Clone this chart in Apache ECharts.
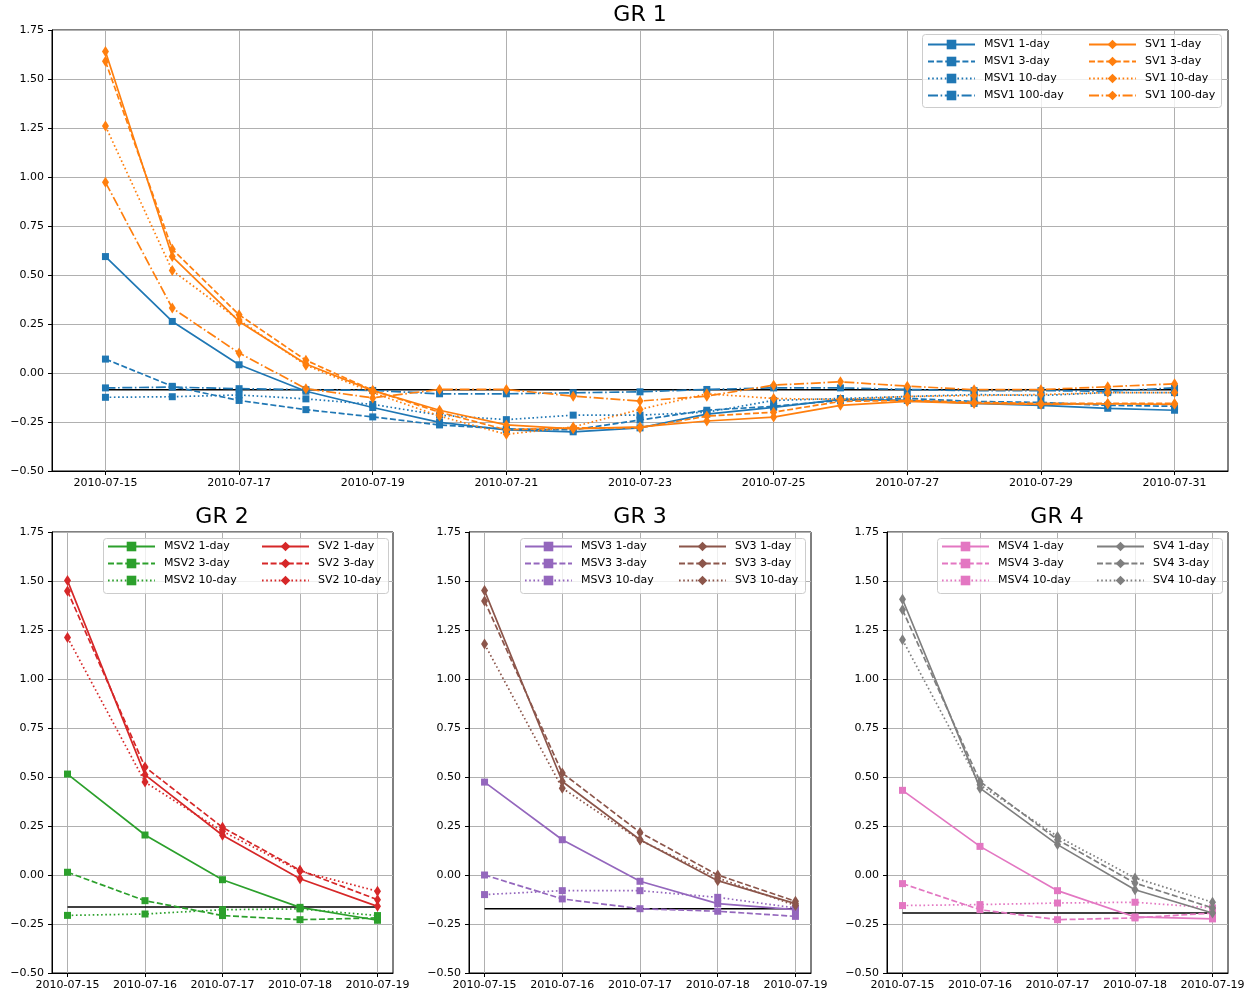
<!DOCTYPE html>
<html>
<head>
<meta charset="utf-8">
<script src="https://cdn.jsdelivr.net/npm/echarts@6/dist/echarts.min.js"></script>
<style>
html, body { margin: 0; padding: 0; background: #fff; }
#main { width: 1255px; height: 995px; }
</style>
</head>
<body>
<div id="main"></div>
<script>
var dates = ['2010-07-15', '2010-07-16', '2010-07-17', '2010-07-18', '2010-07-19', '2010-07-20',
    '2010-07-21', '2010-07-22', '2010-07-23', '2010-07-24', '2010-07-25', '2010-07-26',
    '2010-07-27', '2010-07-28', '2010-07-29', '2010-07-30', '2010-07-31']
var yTicks = [-0.5, -0.25, 0, 0.25, 0.5, 0.75, 1, 1.25, 1.5, 1.75]

// GR 1
var msv1_1 = [0.594, 0.263, 0.042, -0.093, -0.176, -0.252, -0.29, -0.30, -0.28, -0.21, -0.175, -0.135, -0.14, -0.155, -0.165, -0.18, -0.19]
var msv1_3 = [0.071, -0.068, -0.140, -0.187, -0.224, -0.265, -0.285, -0.29, -0.24, -0.19, -0.17, -0.14, -0.13, -0.145, -0.15, -0.165, -0.17]
var msv1_10 = [-0.124, -0.121, -0.112, -0.132, -0.16, -0.215, -0.238, -0.215, -0.215, -0.2, -0.14, -0.13, -0.12, -0.11, -0.115, -0.1, -0.1]
var msv1_100 = [-0.076, -0.072, -0.08, -0.085, -0.089, -0.106, -0.106, -0.101, -0.096, -0.084, -0.076, -0.076, -0.084, -0.09, -0.09, -0.093, -0.076]
var sv1_1 = [1.64, 0.594, 0.263, 0.046, -0.09, -0.19, -0.265, -0.285, -0.275, -0.245, -0.225, -0.165, -0.145, -0.155, -0.16, -0.157, -0.16]
var sv1_3 = [1.59, 0.632, 0.297, 0.065, -0.088, -0.20, -0.29, -0.28, -0.28, -0.22, -0.20, -0.145, -0.14, -0.15, -0.155, -0.155, -0.155]
var sv1_10 = [1.26, 0.523, 0.27, 0.04, -0.10, -0.22, -0.313, -0.275, -0.186, -0.106, -0.13, -0.135, -0.12, -0.115, -0.11, -0.1, -0.1]
var sv1_100 = [0.973, 0.331, 0.102, -0.08, -0.127, -0.084, -0.084, -0.118, -0.143, -0.118, -0.062, -0.045, -0.067, -0.085, -0.085, -0.07, -0.055]

// GR 2
var msv2_1 = [0.515, 0.204, -0.024, -0.165, -0.231]
var msv2_3 = [0.014, -0.131, -0.207, -0.228, -0.219]
var msv2_10 = [-0.206, -0.199, -0.177, -0.173, -0.207]
var sv2_1 = [1.502, 0.511, 0.203, -0.019, -0.16]
var sv2_3 = [1.449, 0.551, 0.243, 0.024, -0.126]
var sv2_10 = [1.212, 0.474, 0.223, 0.020, -0.083]

// GR 3
var msv3_1 = [0.474, 0.18, -0.032, -0.146, -0.177]
var msv3_3 = [0.0, -0.122, -0.172, -0.185, -0.211]
var msv3_10 = [-0.100, -0.080, -0.080, -0.114, -0.168]
var sv3_1 = [1.451, 0.477, 0.18, -0.029, -0.146]
var sv3_3 = [1.398, 0.52, 0.217, 0.0, -0.134]
var sv3_10 = [1.178, 0.443, 0.178, -0.015, -0.156]

// GR 4
var msv4_1 = [0.432, 0.146, -0.08, -0.214, -0.224]
var msv4_3 = [-0.044, -0.177, -0.228, -0.219, -0.194]
var msv4_10 = [-0.156, -0.151, -0.143, -0.139, -0.168]
var sv4_1 = [1.407, 0.443, 0.155, -0.075, -0.194]
var sv4_3 = [1.353, 0.477, 0.18, -0.041, -0.168]
var sv4_10 = [1.20, 0.46, 0.197, -0.015, -0.139]

// black reference lines
var means = [-0.086, -0.163, -0.172, -0.194]

var FONT = 'DejaVu Sans'
var dashes = {
    '1-day': 'solid',
    '3-day': [6, 2.6],
    '10-day': [1.6, 2.6],
    '100-day': [10, 2.6, 1.6, 2.6]
}

var grids = [
    { left: 52, top: 30, width: 1176, height: 441 },
    { left: 52, top: 532, width: 341, height: 441 },
    { left: 469, top: 532, width: 342, height: 441 },
    { left: 887, top: 532, width: 341, height: 441 }
]

function fmtY(v) {
    var s = Math.abs(v).toFixed(2)
    return v < -1e-9 ? '\u2212' + s : s
}

function makeX(idx, n, step) {
    var ticks = []
    for (var i = 0; i < n; i += step) ticks.push(i)
    var pad = (n - 1) * 0.05
    return {
        type: 'value', gridIndex: idx,
        min: -pad, max: n - 1 + pad,
        axisLine: { show: true, onZero: false, lineStyle: { color: '#000', width: 1 } },
        axisTick: { show: true, inside: false, length: 4, customValues: ticks, lineStyle: { color: '#000' } },
        axisLabel: {
            customValues: ticks, margin: 7, fontSize: 11, fontFamily: FONT, color: '#000',
            formatter: function (v) { return dates[Math.round(v)] }
        },
        splitLine: { show: true, lineStyle: { color: '#b0b0b0', width: 1 } }
    }
}

function makeY(idx) {
    return {
        type: 'value', gridIndex: idx,
        min: -0.5, max: 1.75, interval: 0.25,
        axisLine: { show: true, onZero: false, lineStyle: { color: '#000', width: 1 } },
        axisTick: { show: true, inside: false, length: 4, lineStyle: { color: '#000' } },
        axisLabel: { margin: 8, fontSize: 11, fontFamily: FONT, color: '#000', formatter: fmtY },
        splitLine: { show: true, lineStyle: { color: '#b0b0b0', width: 1 } }
    }
}

function line(name, values, idx, color, isSV, dashKey, z) {
    return {
        name: name, type: 'line', xAxisIndex: idx, yAxisIndex: idx,
        data: values.map(function (v, i) { return [i, v] }),
        symbol: isSV ? 'diamond' : 'rect',
        symbolSize: isSV ? [7, 11] : 7,
        showAllSymbol: true,
        color: color,
        itemStyle: { color: color },
        lineStyle: { color: color, width: 1.7, type: dashes[dashKey] },
        z: z,
        silent: true,
        emphasis: { disabled: true }
    }
}

function meanLine(idx, n) {
    return {
        type: 'line', xAxisIndex: idx, yAxisIndex: idx,
        data: [[0, means[idx]], [n - 1, means[idx]]],
        symbol: 'none',
        lineStyle: { color: '#000', width: 1.5 },
        z: 1, silent: true
    }
}

var groups = [
    { key: '1', color: ['#1f77b4', '#ff7f0e'], kinds: ['1-day', '3-day', '10-day', '100-day'],
      msv: [msv1_1, msv1_3, msv1_10, msv1_100], sv: [sv1_1, sv1_3, sv1_10, sv1_100], n: 17 },
    { key: '2', color: ['#2ca02c', '#d62728'], kinds: ['1-day', '3-day', '10-day'],
      msv: [msv2_1, msv2_3, msv2_10], sv: [sv2_1, sv2_3, sv2_10], n: 5 },
    { key: '3', color: ['#9467bd', '#8c564b'], kinds: ['1-day', '3-day', '10-day'],
      msv: [msv3_1, msv3_3, msv3_10], sv: [sv3_1, sv3_3, sv3_10], n: 5 },
    { key: '4', color: ['#e377c2', '#7f7f7f'], kinds: ['1-day', '3-day', '10-day'],
      msv: [msv4_1, msv4_3, msv4_10], sv: [sv4_1, sv4_3, sv4_10], n: 5 }
]

// legend layout: [col1 left, col2 left, top, box x, box y, box w, box h]
var legendPos = [
    [927, 1088, 39, 922, 34, 299, 73],
    [107, 261, 541, 103, 538, 285, 55],
    [524, 678, 541, 520, 538, 285, 55],
    [941, 1096, 541, 937, 538, 285, 55]
]
var titlePos = [[640, 4], [222, 506], [640, 506], [1057, 506]]

var xAxes = [], yAxes = [], series = [], legends = [], titles = [], graphics = []

groups.forEach(function (g, idx) {
    xAxes.push(makeX(idx, g.n, idx === 0 ? 2 : 1))
    yAxes.push(makeY(idx))
    series.push(meanLine(idx, g.n))
    var col1 = [], col2 = []
    g.kinds.forEach(function (k, j) {
        var nm = 'MSV' + g.key + ' ' + k
        series.push(line(nm, g.msv[j], idx, g.color[0], false, k, 2))
        col1.push(nm)
    })
    g.kinds.forEach(function (k, j) {
        var nm = 'SV' + g.key + ' ' + k
        series.push(line(nm, g.sv[j], idx, g.color[1], true, k, 3))
        col2.push(nm)
    })
    var p = legendPos[idx]
    ;[[col1, p[0]], [col2, p[1]]].forEach(function (c) {
        legends.push({
            data: c[0], orient: 'vertical', left: c[1], top: p[2], padding: 0,
            itemWidth: 47, itemHeight: 12, itemGap: 6, selectedMode: false,
            textStyle: { fontSize: 11, fontFamily: FONT, color: '#000', padding: [0, 0, 0, 4] },
            z: 10
        })
    })
    graphics.push({
        type: 'rect', left: p[3], top: p[4], z: 9,
        shape: { width: p[5], height: p[6], r: 3 },
        style: { fill: 'rgba(255,255,255,0.8)', stroke: '#cccccc', lineWidth: 1 }
    })
    titles.push({
        text: 'GR ' + g.key, left: titlePos[idx][0], top: titlePos[idx][1], textAlign: 'center', padding: 0,
        textStyle: { fontSize: 22, fontWeight: 'normal', fontFamily: FONT, color: '#000' }
    })
})

var chart = echarts.init(document.getElementById('main'))
chart.setOption({
    animation: false,
    backgroundColor: '#fff',
    title: titles,
    grid: grids.map(function (g) {
        return Object.assign({ show: true, borderColor: '#000', borderWidth: 1, backgroundColor: 'transparent', containLabel: false }, g)
    }),
    xAxis: xAxes,
    yAxis: yAxes,
    legend: legends,
    graphic: graphics,
    series: series
})
</script>
</body>
</html>
